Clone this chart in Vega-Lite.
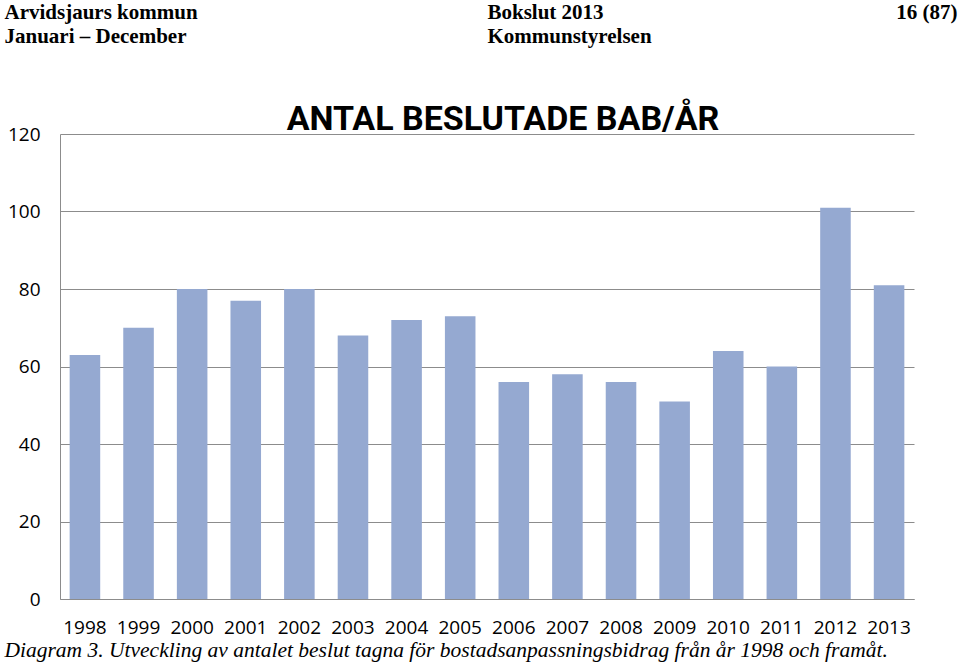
{
  "$schema": "https://vega.github.io/schema/vega-lite/v6.json",
  "width": 854,
  "height": 465,
  "autosize": {"type": "none"},
  "padding": {"left": 60, "top": 134, "right": 45, "bottom": 68},
  "background": "white",
  "title": {
    "text": "ANTAL BESLUTADE BAB/ÅR",
    "anchor": "middle",
    "frame": "group",
    "dx": 16,
    "offset": -163,
    "baseline": "alphabetic",
    "font": "Roboto",
    "fontWeight": "bold",
    "fontSize": 34,
    "color": "#000000"
  },
  "data": {
    "values": [
      {"year": "1998", "count": 63},
      {"year": "1999", "count": 70},
      {"year": "2000", "count": 80},
      {"year": "2001", "count": 77},
      {"year": "2002", "count": 80},
      {"year": "2003", "count": 68},
      {"year": "2004", "count": 72},
      {"year": "2005", "count": 73},
      {"year": "2006", "count": 56},
      {"year": "2007", "count": 58},
      {"year": "2008", "count": 56},
      {"year": "2009", "count": 51},
      {"year": "2010", "count": 64},
      {"year": "2011", "count": 60},
      {"year": "2012", "count": 101},
      {"year": "2013", "count": 81}
    ]
  },
  "config": {
    "view": {"stroke": null},
    "axis": {
      "labelFont": "Open Sans",
      "labelFontSize": 19,
      "labelColor": "#000000",
      "titleColor": "#000000"
    }
  },
  "layer": [
    {
      "mark": {"type": "bar", "color": "#95A9D1"},
      "encoding": {
        "x": {
          "field": "year",
          "type": "ordinal",
          "scale": {"paddingInner": 0.43, "paddingOuter": 0.18},
          "axis": {
            "orient": "bottom",
            "labelAngle": 0,
            "ticks": false,
            "domainColor": "#8C8C8C",
            "labelPadding": 19,
            "title": "Diagram 3. Utveckling av antalet beslut tagna för bostadsanpassningsbidrag från år 1998 och framåt.",
            "titleFont": "Liberation Serif",
            "titleFontStyle": "italic",
            "titleFontWeight": "normal",
            "titleFontSize": 21.5,
            "titleAlign": "left",
            "titleAnchor": null,
            "titleBaseline": "alphabetic",
            "titleX": -56,
            "titleY": 57
          }
        },
        "y": {
          "field": "count",
          "type": "quantitative",
          "scale": {"domain": [0, 120], "nice": false},
          "axis": {
            "values": [0, 20, 40, 60, 80, 100, 120],
            "ticks": false,
            "domainColor": "#8C8C8C",
            "gridColor": "#8C8C8C",
            "labelPadding": 20,
            "title": ["Arvidsjaurs kommun", "Januari – December"],
            "titleFont": "Liberation Serif",
            "titleFontWeight": "bold",
            "titleFontSize": 21,
            "titleLineHeight": 24,
            "titleAngle": 0,
            "titleAlign": "left",
            "titleAnchor": null,
            "titleBaseline": "alphabetic",
            "titleX": -56,
            "titleY": -116
          }
        }
      }
    },
    {
      "mark": {"type": "bar", "opacity": 0},
      "encoding": {
        "x": {
          "field": "year",
          "type": "ordinal",
          "axis": {
            "orient": "top",
            "labels": false,
            "ticks": false,
            "domain": false,
            "title": ["Bokslut 2013", "Kommunstyrelsen"],
            "titleFont": "Liberation Serif",
            "titleFontWeight": "bold",
            "titleFontSize": 21,
            "titleLineHeight": 24,
            "titleAlign": "left",
            "titleAnchor": null,
            "titleBaseline": "alphabetic",
            "titleX": 427,
            "titleY": -116
          }
        },
        "y": {
          "field": "count",
          "type": "quantitative",
          "axis": {
            "orient": "right",
            "labels": false,
            "ticks": false,
            "domain": false,
            "grid": false,
            "title": "16 (87)",
            "titleFont": "Liberation Serif",
            "titleFontWeight": "bold",
            "titleFontSize": 21,
            "titleAngle": 0,
            "titleAlign": "right",
            "titleAnchor": null,
            "titleBaseline": "alphabetic",
            "titleX": 43,
            "titleY": -116
          }
        }
      }
    }
  ],
  "resolve": {"axis": {"x": "independent", "y": "independent"}}
}
